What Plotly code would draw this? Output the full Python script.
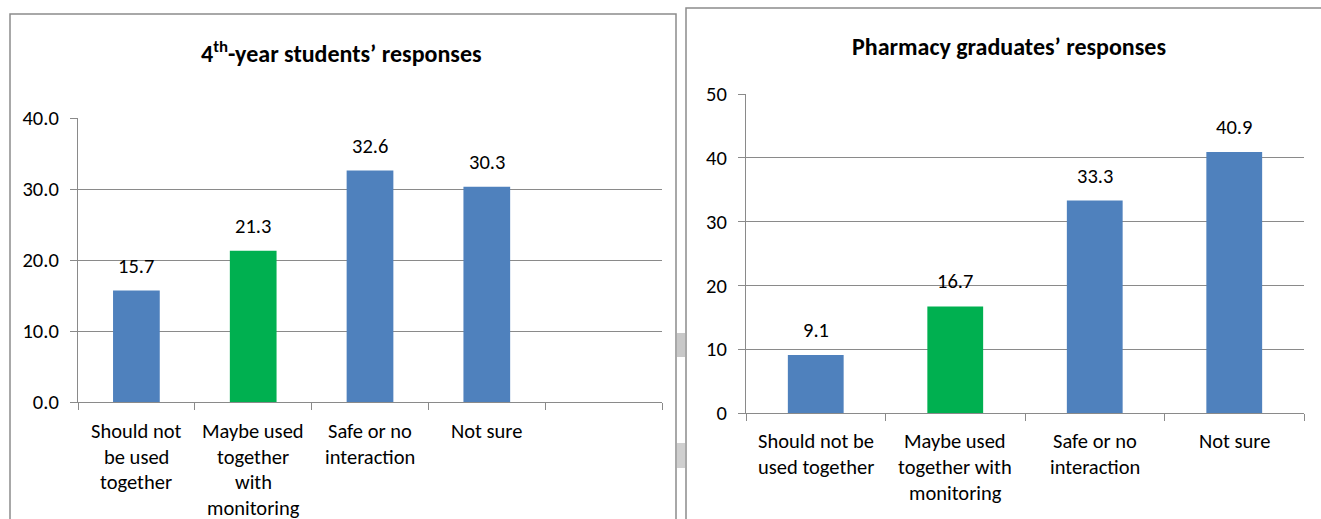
import plotly.graph_objects as go

W, H = 1321, 519

# Data
categories = ["Should not be used together", "Maybe used together with monitoring",
              "Safe or no interaction", "Not sure"]
students_values = [15.7, 21.3, 32.6, 30.3]
students_tick_lines = [["Should not", "be used", "together"],
                       ["Maybe used", "together", "with", "monitoring"],
                       ["Safe or no", "interaction"],
                       ["Not sure"]]
students_yticks = [0, 10, 20, 30, 40]

graduates_values = [9.1, 16.7, 33.3, 40.9]
graduates_tick_lines = [["Should not be", "used together"],
                        ["Maybe used", "together with", "monitoring"],
                        ["Safe or no", "interaction"],
                        ["Not sure"]]
graduates_yticks = [0, 10, 20, 30, 40, 50]

BLUE = "#4F81BD"
GREEN = "#00B050"
bar_colors = [BLUE, GREEN, BLUE, BLUE]
FONT = "Carlito, Lato, sans-serif"
GRID = "#8a8a8a"
FS = 20.5
FS_TITLE = 24


def px(x):
    return x / W


def py(y):
    return 1 - y / H


cat_left = categories + [" "]  # trailing empty slot on the left chart

fig = go.Figure()
fig.add_trace(go.Bar(x=categories, y=students_values, marker_color=bar_colors,
                     marker_line_width=0, xaxis="x", yaxis="y", showlegend=False))
fig.add_trace(go.Bar(x=categories, y=graduates_values, marker_color=bar_colors,
                     marker_line_width=0, xaxis="x2", yaxis="y2", showlegend=False))

axis_common = dict(showline=True, linecolor=GRID, linewidth=1.2, ticks="outside",
                   ticklen=7, tickcolor=GRID, tickwidth=1.2, automargin=False,
                   tickfont=dict(family=FONT, size=FS, color="black"), zeroline=False)

fig.update_layout(
    width=W, height=H, autosize=False,
    margin=dict(l=0, r=0, t=0, b=0, pad=0),
    paper_bgcolor="white", plot_bgcolor="white",
    showlegend=False,
    bargap=0.6,
    font=dict(family=FONT, size=FS, color="black"),
    xaxis=dict(domain=[px(78), px(662)], anchor="y", type="category",
               categoryorder="array", categoryarray=cat_left, range=[-0.5, 4.5],
               tickson="boundaries", showticklabels=False, showgrid=False, **axis_common),
    yaxis=dict(domain=[py(402), py(118)], anchor="x", range=[0, 40],
               tickvals=students_yticks, ticktext=[f"{v:.1f}" for v in students_yticks],
               showgrid=True, gridcolor=GRID, gridwidth=1.2, ticklabelstandoff=7, **axis_common),
    xaxis2=dict(domain=[px(746), px(1304)], anchor="y2", type="category",
                categoryorder="array", categoryarray=categories, range=[-0.5, 3.5],
                tickson="boundaries", showticklabels=False, showgrid=False, **axis_common),
    yaxis2=dict(domain=[py(413), py(94)], anchor="x2", range=[0, 50],
                tickvals=graduates_yticks, ticktext=[str(v) for v in graduates_yticks],
                showgrid=True, gridcolor=GRID, gridwidth=1.2, ticklabelstandoff=7, **axis_common),
)

annotations = []
# Value labels above the bars
for xr, yr, vals in (("x", "y", students_values), ("x2", "y2", graduates_values)):
    for c, v in zip(categories, vals):
        annotations.append(dict(x=c, y=v, xref=xr, yref=yr, text=f"{v:.1f}",
                                showarrow=False, xanchor="center", yanchor="bottom", yshift=10,
                                font=dict(family=FONT, size=FS, color="black")))

# Multi-line category labels, one line per annotation for wider line spacing
for xr, lines_list, top, step in (("x", students_tick_lines, 431, 25.5),
                                  ("x2", graduates_tick_lines, 441, 26)):
    for c, lines in zip(categories, lines_list):
        for k, line in enumerate(lines):
            annotations.append(dict(x=c, y=py(top + step * k), xref=xr, yref="paper",
                                    text=line, showarrow=False, xanchor="center",
                                    yanchor="middle",
                                    font=dict(family=FONT, size=FS, color="black")))

# Panel titles
annotations.append(dict(x=px(341), y=py(52), xref="paper", yref="paper",
                        text="<b>4<sup>th</sup>-year students’ responses</b>",
                        showarrow=False, xanchor="center", yanchor="middle",
                        font=dict(family=FONT, size=FS_TITLE, color="black")))
annotations.append(dict(x=px(1009), y=py(46), xref="paper", yref="paper",
                        text="<b>Pharmacy graduates’ responses</b>",
                        showarrow=False, xanchor="center", yanchor="middle",
                        font=dict(family=FONT, size=FS_TITLE, color="black")))
fig.update_layout(annotations=annotations)

# Panel frames and the small gray handles between them
shapes = [
    dict(type="rect", xref="paper", yref="paper", x0=px(10), x1=px(676), y0=py(530), y1=py(14),
         line=dict(color="#8c8c8c", width=1.5), fillcolor="rgba(0,0,0,0)", layer="below"),
    dict(type="rect", xref="paper", yref="paper", x0=px(686), x1=px(1330), y0=py(530), y1=py(8),
         line=dict(color="#8c8c8c", width=1.5), fillcolor="rgba(0,0,0,0)", layer="below"),
    dict(type="rect", xref="paper", yref="paper", x0=px(677), x1=px(685), y0=py(357), y1=py(333),
         line=dict(width=0), fillcolor="#c8c8c8", layer="below"),
    dict(type="rect", xref="paper", yref="paper", x0=px(677), x1=px(685), y0=py(468), y1=py(443),
         line=dict(width=0), fillcolor="#cfcfcf", layer="below"),
]
fig.update_layout(shapes=shapes)

fig.write_html("out.html", post_script="document.body.style.margin = '0';")
